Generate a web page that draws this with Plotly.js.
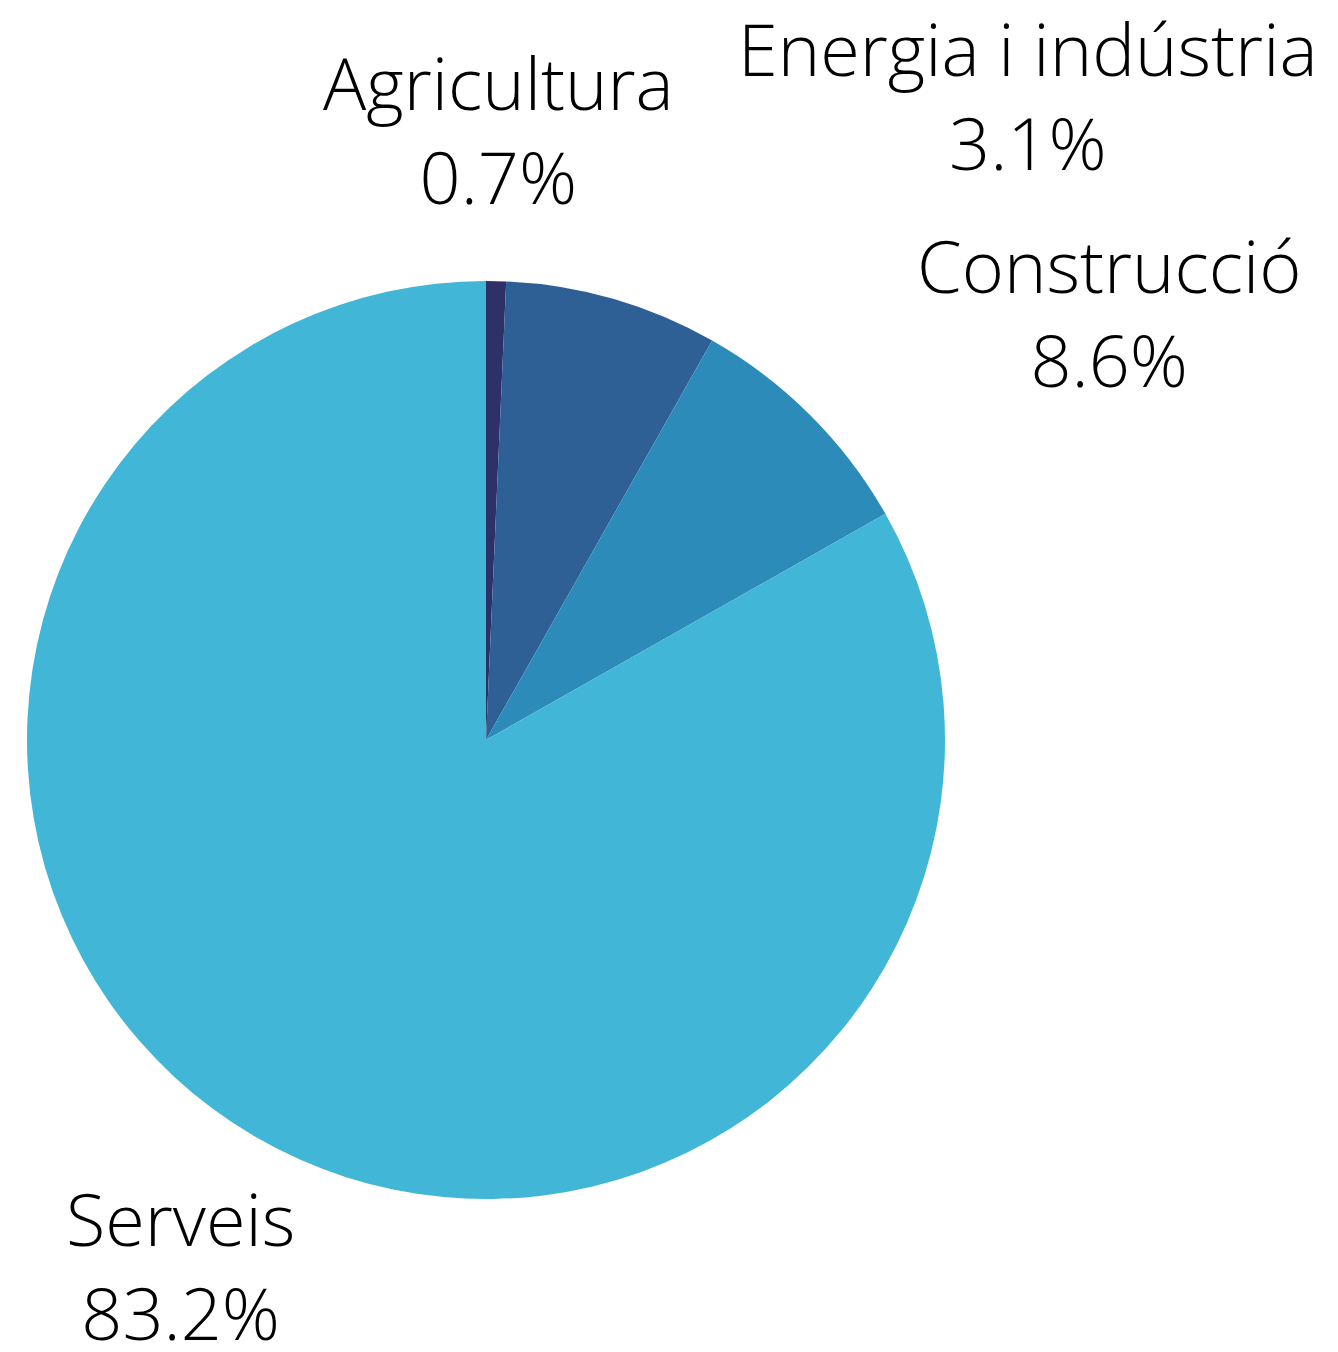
<!DOCTYPE html>
<html>
<head>
<meta charset="utf-8">
<script src="https://cdn.plot.ly/plotly-3.0.1.min.js"></script>
<style>
  html, body { margin: 0; padding: 0; background: #fff; }
  #chart { width: 1338px; height: 1352px; }
</style>
</head>
<body>
<div id="chart"></div>
<script>
// sectors, slice sizes and the percent text printed on each label
const sectors = ['Agricultura', 'Energia i indústria', 'Construcció', 'Serveis'];
const shares = [0.7, 7.5, 8.6, 83.2];
const shareText = ['0.7%', '3.1%', '8.6%', '83.2%'];
const sliceColors = ['#2e3168', '#2e6096', '#2d8bb9', '#42b6d6'];

// where each label block sits (paper px, centre of the block)
const labelPos = [[498, 129], [1028, 95], [1109, 312], [180, 1265]];

const W = 1338, H = 1352;
const labelFont = { family: 'Open Sans', size: 72, color: '#000', weight: 300 };

const labelNotes = sectors.map((s, i) => ({
    xref: 'paper', yref: 'paper',
    x: labelPos[i][0] / W,
    y: 1 - labelPos[i][1] / H,
    xanchor: 'center', yanchor: 'middle',
    borderpad: 0,
    text: s + '<br>' + shareText[i],
    showarrow: false,
    font: labelFont
}));

Plotly.newPlot('chart', [{
    type: 'pie',
    labels: sectors,
    values: shares,
    textinfo: 'none',
    sort: false,
    direction: 'clockwise',
    rotation: 0,
    domain: { x: [27 / W, 945 / W], y: [(H - 1199) / H, (H - 281) / H] },
    marker: { colors: sliceColors, line: { width: 0 } },
    hoverinfo: 'none'
}], {
    width: W,
    height: H,
    showlegend: false,
    margin: { l: 0, r: 0, t: 0, b: 0 },
    paper_bgcolor: '#fff',
    annotations: labelNotes
}, { staticPlot: true });
</script>
</body>
</html>
